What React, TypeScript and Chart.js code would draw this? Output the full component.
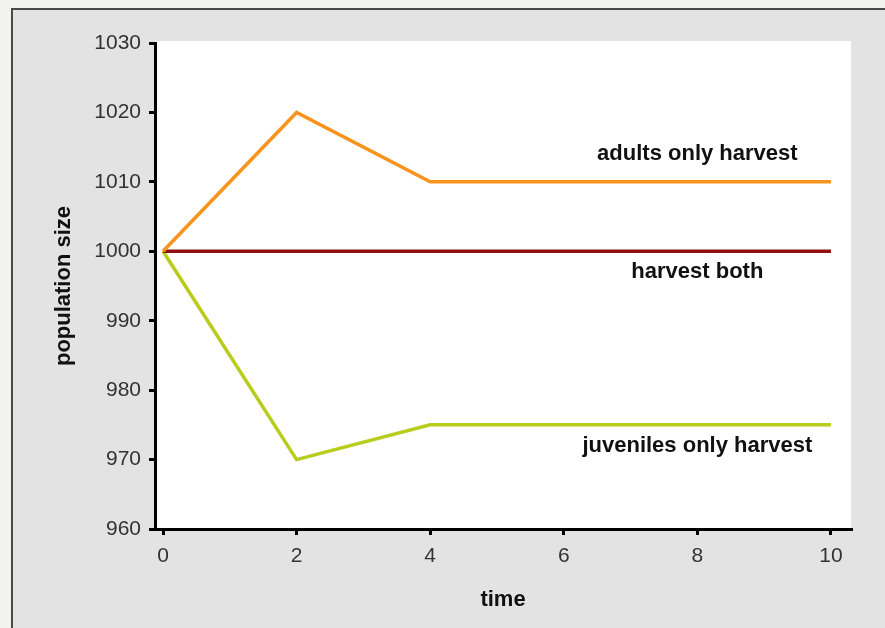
import React, { useEffect, useRef } from "react";
import { Chart, registerables } from "chart.js";

Chart.register(...registerables);

const times = [0, 2, 4, 6, 8, 10];
const adultsOnly = [1000, 1020, 1010, 1010, 1010, 1010];
const harvestBoth = [1000, 1000, 1000, 1000, 1000, 1000];
const juvenilesOnly = [1000, 970, 975, 975, 975, 975];
const xTickValues = [0, 2, 4, 6, 8, 10];
const yTickValues = [960, 970, 980, 990, 1000, 1010, 1020, 1030];
const seriesNames = ["adults only harvest", "harvest both", "juveniles only harvest"];
const labelTimes = [8, 8, 8];
const labelValues = [1014, 997, 972];

const FONT = "'Liberation Sans', Arial, sans-serif";
const TICK_FONT = "'Liberation Sans Narrow', 'Arial Narrow', 'Liberation Sans', sans-serif";

const whiteArea = {
  id: "whiteArea",
  beforeDraw(chart: any) {
    const { ctx, chartArea } = chart;
    ctx.save();
    ctx.fillStyle = "#ffffff";
    ctx.fillRect(chartArea.left, chartArea.top - 2, chartArea.right - chartArea.left, chartArea.bottom - chartArea.top + 2);
    ctx.restore();
  },
};

const seriesLabels = {
  id: "seriesLabels",
  afterDatasetsDraw(chart: any) {
    const { ctx, scales } = chart;
    ctx.save();
    ctx.font = `bold 22px ${FONT}`;
    ctx.fillStyle = "#111111";
    ctx.textAlign = "center";
    ctx.textBaseline = "middle";
    seriesNames.forEach((name, i) => {
      const x = scales.x.getPixelForValue(labelTimes[i]);
      const y = scales.y.getPixelForValue(labelValues[i]);
      ctx.fillText(name, x, y);
    });
    ctx.restore();
  },
};

export default function App() {
  const ref = useRef<HTMLCanvasElement>(null);

  useEffect(() => {
    if (!ref.current) return;
    const mk = (vals: number[]) => times.map((t, i) => ({ x: t, y: vals[i] }));
    const chart = new Chart(ref.current, {
      type: "line",
      data: {
        datasets: [
          { label: seriesNames[0], data: mk(adultsOnly), borderColor: "#f7941d", borderWidth: 3.5, pointRadius: 0, tension: 0 },
          { label: seriesNames[1], data: mk(harvestBoth), borderColor: "#8e1010", borderWidth: 3.5, pointRadius: 0, tension: 0 },
          { label: seriesNames[2], data: mk(juvenilesOnly), borderColor: "#b8cc1c", borderWidth: 3.5, pointRadius: 0, tension: 0 },
        ],
      },
      options: {
        animation: false,
        responsive: false,
        devicePixelRatio: 1,
        layout: { padding: { top: 43, right: 34, left: 0, bottom: 0 } },
        plugins: { legend: { display: false }, tooltip: { enabled: false } },
        scales: {
          x: {
            type: "linear",
            min: -0.12,
            max: 10.3,
            afterBuildTicks: (axis: any) => {
              axis.ticks = xTickValues.map((v) => ({ value: v }));
            },
            afterFit: (s: any) => {
              s.height = 99;
            },
            grid: { drawOnChartArea: false, drawTicks: true, tickLength: 6, tickColor: "#000", tickWidth: 3, color: "#000", lineWidth: 3 },
            border: { display: true, color: "#000", width: 3 },
            ticks: { padding: 9, color: "#333", font: { family: TICK_FONT, size: 21 }, callback: (v: any) => String(v) },
            title: {
              display: true,
              text: "time",
              color: "#111",
              font: { family: FONT, size: 22, weight: "bold" },
              padding: { top: 0, bottom: 15 },
            },
          },
          y: {
            type: "linear",
            min: 960,
            max: 1030,
            afterBuildTicks: (axis: any) => {
              axis.ticks = yTickValues.map((v) => ({ value: v }));
            },
            afterFit: (s: any) => {
              s.width = 155;
            },
            grid: { drawOnChartArea: false, drawTicks: true, tickLength: 6, tickColor: "#000", tickWidth: 3, color: "#000", lineWidth: 3 },
            border: { display: true, color: "#000", width: 3 },
            ticks: { padding: 8, color: "#333", font: { family: TICK_FONT, size: 21 }, callback: (v: any) => String(v) },
            title: {
              display: true,
              text: "population size",
              color: "#111",
              font: { family: FONT, size: 22, weight: "bold" },
              padding: { top: 51, bottom: 0 },
            },
          },
        },
      },
      plugins: [whiteArea, seriesLabels],
    });
    return () => chart.destroy();
  }, []);

  return (
    <div style={{ position: "fixed", left: 0, top: 0, width: 885, height: 628, background: "#f2f2ee", overflow: "hidden" }}>
      <div
        style={{
          position: "absolute",
          left: 11,
          top: 8,
          right: 0,
          bottom: 0,
          background: "#e3e3e3",
          borderLeft: "2px solid #4a4a4a",
          borderTop: "2px solid #4a4a4a",
        }}
      />
      <canvas ref={ref} width={885} height={628} style={{ position: "absolute", left: 0, top: 0, width: 885, height: 628 }} />
    </div>
  );
}
